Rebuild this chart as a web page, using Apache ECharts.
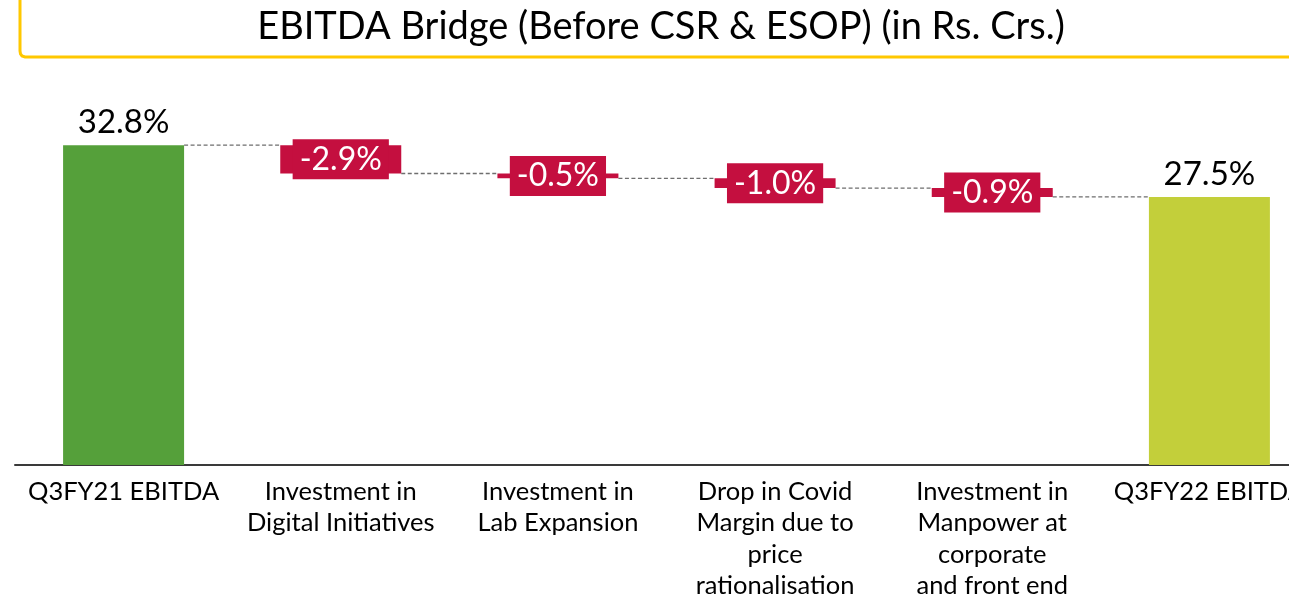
<!DOCTYPE html>
<html>
<head>
<meta charset="utf-8">
<script src="https://cdn.jsdelivr.net/npm/echarts@6/dist/echarts.min.js"></script>
<style>
html,body{margin:0;padding:0;background:#fff;overflow:hidden;width:1289px;height:602px;}
#chart{width:1320px;height:602px;}
</style>
</head>
<body>
<div id="chart"></div>
<script>
const categories = [
  'Q3FY21 EBITDA',
  'Investment in\nDigital Initiatives',
  'Investment in\nLab Expansion',
  'Drop in Covid\nMargin due to\nprice\nrationalisation',
  'Investment in\nManpower at\ncorporate\nand front end',
  'Q3FY22 EBITDA'
];
const startValue = 32.8;
const changes = [-2.9, -0.5, -1.0, -0.9];
const endValue = 27.5;
const titleText = 'EBITDA Bridge (Before CSR & ESOP) (in Rs. Crs.)';

// derive waterfall pieces
const levels = [startValue];
changes.forEach(c => levels.push(+(levels[levels.length - 1] + c).toFixed(2)));
const endLabel = {show: true, position: 'top', distance: 6, color: '#000', backgroundColor: 'transparent', padding: 0, fontSize: 33, lineHeight: 33};
const baseData = [0];
const stepData = [{value: startValue, itemStyle: {color: '#55A03A'}, label: Object.assign({formatter: startValue.toFixed(1) + '%'}, endLabel)}];
changes.forEach((c, i) => {
  baseData.push(levels[i + 1]);
  stepData.push({value: Math.abs(c), label: {formatter: c.toFixed(1) + '%'}});
});
baseData.push(0);
stepData.push({value: endValue, itemStyle: {color: '#C3CF3A'}, label: Object.assign({formatter: endValue.toFixed(1) + '%'}, endLabel)});

const connectorData = levels.map((v, i) => [i, v]);
const BAR_W = 121;
const FONT = 'Lato, "Open Sans", sans-serif';

const chart = echarts.init(document.getElementById('chart'), null, {renderer: 'canvas'});
chart.setOption({
  animation: false,
  backgroundColor: '#fff',
  graphic: [
    {type: 'polyline', silent: true,
     shape: {points: [[20, 0], [20, 51], [20.5, 54], [22, 56], [25, 57], [1320, 57]]},
     style: {fill: null, stroke: '#FFC800', lineWidth: 3}},
    {type: 'text', silent: true, x: 661, y: 27,
     style: {text: titleText, textAlign: 'center', textVerticalAlign: 'middle', fill: '#000', fontSize: 38, fontFamily: FONT}}
  ],
  grid: {left: 15, top: 75, width: 1303, height: 390, containLabel: false},
  xAxis: {
    type: 'category', data: categories,
    axisLine: {lineStyle: {color: '#3a3a3a', width: 2}},
    axisTick: {show: false},
    axisLabel: {interval: 0, color: '#000', fontSize: 25.5, lineHeight: 31.5, margin: 11, fontFamily: FONT}
  },
  yAxis: {type: 'value', min: 0, max: 40, show: false, splitLine: {show: false}},
  series: [
    {type: 'custom', z: 1, silent: true, data: connectorData,
     renderItem: function (params, api) {
       const i = api.value(0);
       if (i >= categories.length - 1) return null;
       const p = api.coord([i, api.value(1)]);
       const q = api.coord([i + 1, api.value(1)]);
       return {type: 'line', shape: {x1: p[0] + BAR_W / 2, y1: p[1], x2: q[0] - BAR_W / 2, y2: q[1]},
               style: {stroke: '#6e6e6e', lineWidth: 1.3, lineDash: [4, 2.5]}};
     }},
    {type: 'bar', stack: 'wf', barWidth: BAR_W, silent: true, data: baseData,
     itemStyle: {color: 'rgba(0,0,0,0)'}, z: 2},
    {type: 'bar', stack: 'wf', barWidth: BAR_W, silent: true, data: stepData, z: 3,
     itemStyle: {color: '#C40F3F'},
     label: {show: true, position: 'inside', color: '#fff', fontSize: 32, lineHeight: 32, fontFamily: FONT,
             backgroundColor: '#C40F3F', padding: [4, 7]}}
  ]
});
</script>
</body>
</html>
